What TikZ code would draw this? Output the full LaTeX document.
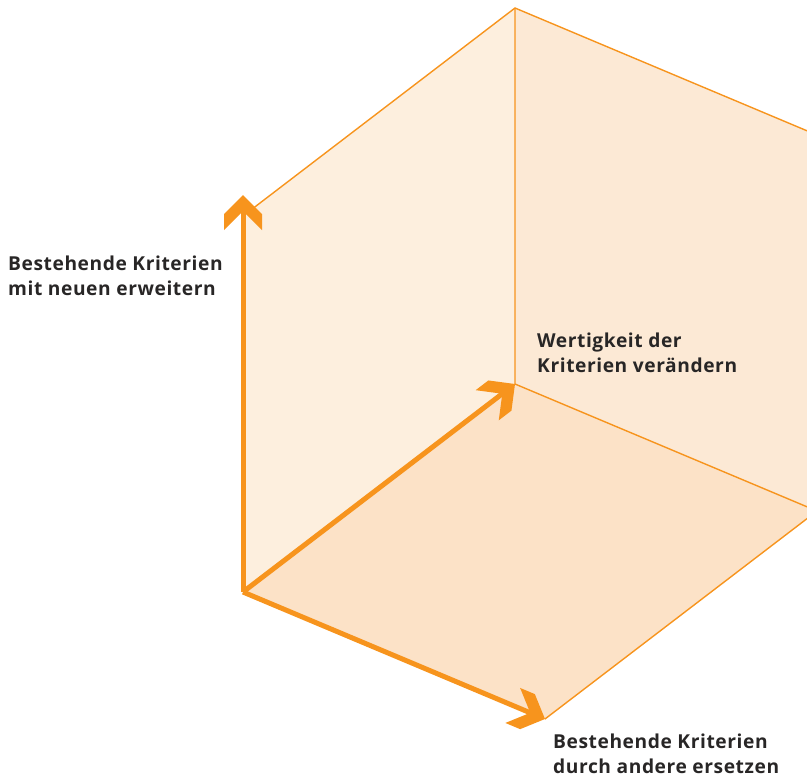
\documentclass[tikz,border=0pt]{standalone}
\usepackage{fontspec}
\setmainfont{Open Sans}[LetterSpace=3]
\definecolor{aor}{RGB}{247,148,29}
\definecolor{faceL}{RGB}{253,239,222}
\definecolor{faceR}{RGB}{252,233,213}
\definecolor{faceB}{RGB}{252,226,199}
\definecolor{txt}{RGB}{40,38,38}
\pgfdeclarearrow{
  name = Chev,
  parameters = {},
  setup code = {
    \pgfarrowssettipend{0pt}
    \pgfarrowssetlineend{-8pt}
    \pgfarrowssetbackend{-35pt}
    \pgfarrowsupperhullpoint{-35pt}{19pt}
    \pgfarrowsupperhullpoint{-19pt}{19pt}
    \pgfarrowshullpoint{0pt}{0pt}
  },
  drawing code = {
    \pgfsetfillcolor{aor}
    \pgfpathmoveto{\pgfpoint{0pt}{0pt}}
    \pgfpathlineto{\pgfpoint{-19pt}{19pt}}
    \pgfpathlineto{\pgfpoint{-35pt}{19pt}}
    \pgfpathlineto{\pgfpoint{-16pt}{0pt}}
    \pgfpathlineto{\pgfpoint{-35pt}{-19pt}}
    \pgfpathlineto{\pgfpoint{-19pt}{-19pt}}
    \pgfpathclose
    \pgfusepathqfill
  }
}
\tikzset{
  edge/.style={draw=aor, line width=1.4pt, line join=miter},
  axis/.style={draw=aor, line width=5pt, -Chev},
  lbl/.style={inner sep=0pt, anchor=north west, align=left, text=txt,
    font=\fontsize{19.2}{25}\selectfont\bfseries}
}
\begin{document}
\begin{tikzpicture}[x=1pt,y=-1pt]
\useasboundingbox (0,0) rectangle (807,777);
\clip (0,0) rectangle (807,777);
\coordinate (O) at (243,592);
\coordinate (V) at (243,195);
\coordinate (VT) at (243,216);
\coordinate (B) at (515,384);
\coordinate (BT) at (515,8);
\coordinate (C) at (545,719);
\coordinate (CB) at (817,511);
\coordinate (RT) at (817,135);
% faces
\fill[faceL] (O) -- (B) -- (BT) -- (VT) -- cycle;
\fill[faceR] (B) -- (CB) -- (RT) -- (BT) -- cycle;
\fill[faceB] (O) -- (C) -- (CB) -- (B) -- cycle;
% thin edges
\draw[edge] (VT) -- (BT) -- (RT);
\draw[edge] (BT) -- (B) -- (CB);
\draw[edge] (C) -- (CB);
% axes
\draw[axis] (O) -- (V);
\draw[axis] (O) -- (B);
\draw[axis] (O) -- (C);
% labels
\node[lbl] (l1) at (8,256) {Bestehende Kriterien\\mit neuen erweitern};
\node[lbl] (l2) at (537,333) {Wertigkeit der\\Kriterien verändern};
\node[lbl] (l3) at (553,734) {Bestehende Kriterien\\durch andere ersetzen};
\end{tikzpicture}
\end{document}
